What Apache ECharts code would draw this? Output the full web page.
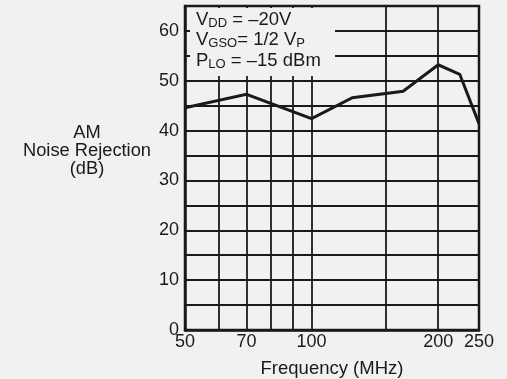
<!DOCTYPE html>
<html>
<head>
<meta charset="utf-8">
<script src="https://cdn.jsdelivr.net/npm/echarts@6/dist/echarts.min.js"></script>
<style>
  html, body { margin: 0; padding: 0; background: #f1f1f1; }
  #chart { width: 507px; height: 379px; }
</style>
</head>
<body>
<div id="chart"></div>
<script>
// Measured AM noise rejection versus frequency
const frequencyMHz = [50, 70, 100, 125, 165, 200, 225, 250];
const rejectionDb = [44.6, 47.3, 42.4, 46.6, 47.9, 53.2, 51.3, 41.4];

// Log-decade grid positions and the labelled subset
const freqGridLines = [50, 60, 70, 80, 90, 100, 150, 200, 250];
const freqTickLabels = [50, 70, 100, 200, 250];
const dbTickLabels = [0, 10, 20, 30, 40, 50, 60];

const ink = '#1a1a1a';
const font = 'Liberation Sans, Arial, Helvetica, sans-serif';

const chart = echarts.init(document.getElementById('chart'), null, { renderer: 'canvas' });

chart.setOption({
  backgroundColor: '#f1f1f1',
  animation: false,
  grid: {
    left: 185, right: 28, top: 6, bottom: 49,
    outerBoundsMode: 'none',
    containLabel: false,
    show: true, borderColor: ink, borderWidth: 2.5,
    backgroundColor: 'transparent'
  },
  xAxis: {
    type: 'log',
    logBase: 10,
    min: 50,
    max: 250,
    name: 'Frequency (MHz)',
    nameLocation: 'middle',
    nameGap: 29,
    nameTextStyle: { color: ink, fontSize: 18.5, fontFamily: font },
    axisLine: { show: true, lineStyle: { color: ink, width: 2.5 } },
    axisTick: { show: false, customValues: freqGridLines },
    axisLabel: {
      customValues: freqTickLabels,
      color: ink, fontSize: 18, fontFamily: font, margin: 3,
      formatter: v => String(Math.round(v))
    },
    splitLine: { show: true, lineStyle: { color: ink, width: 1.8 } },
    minorSplitLine: { show: false }
  },
  yAxis: {
    type: 'value',
    min: 0,
    max: 65,
    interval: 5,
    axisLine: { show: true, lineStyle: { color: ink, width: 2.5 } },
    axisTick: { show: false },
    axisLabel: {
      color: ink, fontSize: 18, fontFamily: font, margin: 6,
      formatter: v => (dbTickLabels.indexOf(v) >= 0 ? String(v) : '')
    },
    splitLine: { show: true, lineStyle: { color: ink, width: 1.8 } }
  },
  graphic: [
    {
      // clear panel behind the bias-condition notes
      type: 'rect',
      z: 10,
      shape: { x: 190, y: 8, width: 145, height: 68 },
      style: { fill: '#f1f1f1' }
    },
    {
      type: 'text',
      z: 11,
      left: 196,
      top: 10,
      style: {
        text: '{m|V}{s|DD}{m| = –20V}\n{m|V}{s|GSO}{m|= 1/2 V}{s|P}\n{m|P}{s|LO}{m| = –15 dBm}',
        fontFamily: font,
        fill: ink,
        rich: {
          m: { fontSize: 18.5, lineHeight: 20.5, fontFamily: font, fill: ink },
          s: { fontSize: 13, lineHeight: 6, verticalAlign: 'bottom', fontFamily: font, fill: ink }
        }
      }
    },
    {
      type: 'text',
      z: 11,
      x: 87,
      y: 151,
      style: {
        text: 'AM\nNoise Rejection\n(dB)',
        fontFamily: font,
        fontSize: 18.3,
        lineHeight: 18,
        fill: ink,
        align: 'center',
        verticalAlign: 'middle'
      }
    }
  ],
  series: [
    {
      type: 'line',
      data: frequencyMHz.map((f, i) => [f, rejectionDb[i]]),
      showSymbol: false,
      symbol: 'none',
      z: 5,
      lineStyle: { color: ink, width: 3, join: 'miter' }
    }
  ]
});
</script>
</body>
</html>
